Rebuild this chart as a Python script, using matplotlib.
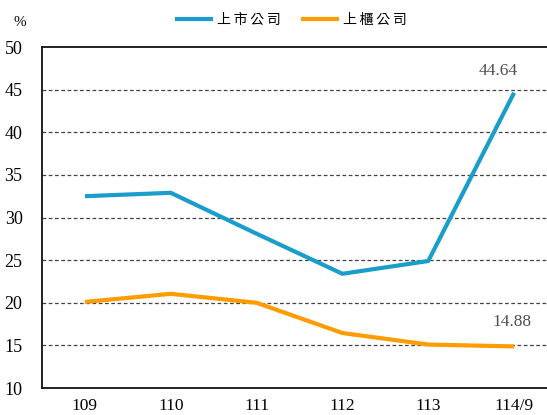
import matplotlib
matplotlib.use('Agg')
import matplotlib.pyplot as plt

# Data
years = ['109', '110', '111', '112', '113', '114/9']
listed = [32.5, 32.9, 28.1, 23.4, 24.9, 44.64]
otc = [20.1, 21.05, 20.0, 16.45, 15.1, 14.88]
y_ticks = [10, 15, 20, 25, 30, 35, 40, 45, 50]
names = ['上市公司', '上櫃公司']

blue = '#1a9dcb'
orange = '#ff9c00'
serif = ['Liberation Serif', 'DejaVu Serif']

fig = plt.figure(figsize=(5.47, 4.15), dpi=100)
ax = fig.add_axes([0.0768, 0.065, 0.9415, 0.8217])

# spread the CJK letters a little, like the original legend
spaced = ['\u2009'.join(n) for n in names]

x = list(range(len(years)))
ax.plot(x, listed, color=blue, lw=3, solid_capstyle='butt', label=spaced[0])
ax.plot(x, otc, color=orange, lw=3, solid_capstyle='butt', label=spaced[1])

# Grid lines
for v in y_ticks[1:-1]:
    ax.axhline(v, color='#444444', lw=0.9, ls=(0, (3, 2)), zorder=0)

ax.set_xlim(-0.5, 5.5)
ax.set_ylim(10, 50)
ax.set_xticks(x)
ax.set_xticklabels(years, fontfamily=serif, fontsize=12.5)
ax.set_yticks(y_ticks)
ax.set_yticklabels([str(v) for v in y_ticks], fontfamily=serif, fontsize=13)
ax.tick_params(axis='both', length=0)
ax.tick_params(axis='x', pad=7)
ax.tick_params(axis='y', pad=14)

for s in ['left', 'bottom', 'top']:
    ax.spines[s].set_color('#111111')
    ax.spines[s].set_linewidth(1.3)
ax.spines['right'].set_visible(False)

# Value labels
ax.text(x[-1] - 0.19, listed[-1] + 2.5, '%.2f' % listed[-1], fontfamily=serif,
        fontsize=12.5, color='#505050', ha='center', va='center')
ax.text(x[-1] - 0.02, otc[-1] + 2.9, '%.2f' % otc[-1], fontfamily=serif,
        fontsize=12.5, color='#505050', ha='center', va='center')

fig.text(20 / 547, 1 - 22 / 415, '%', fontfamily=serif, fontsize=11,
         ha='center', va='center')

leg = fig.legend(loc='center', bbox_to_anchor=(291 / 547, 1 - 20 / 415), ncol=2,
                 frameon=False, handlelength=2.7, handletextpad=0.3, columnspacing=1.5,
                 prop={'family': ['Noto Sans CJK TC', 'DejaVu Sans'], 'size': 10})

fig.savefig('out.png', dpi=100)
